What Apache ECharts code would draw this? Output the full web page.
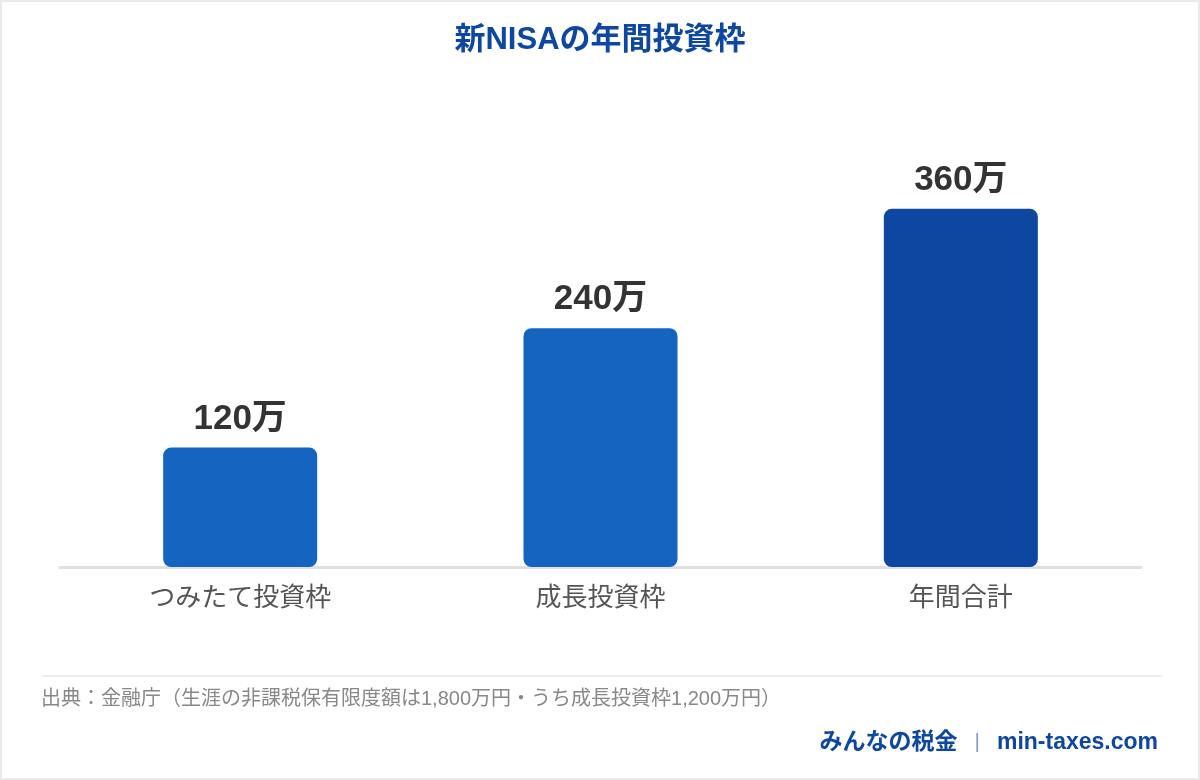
<!DOCTYPE html>
<html>
<head>
    <meta charset="utf-8">
    <title>新NISAの年間投資枠</title>
    <script src="https://cdn.jsdelivr.net/npm/echarts@6/dist/echarts.min.js"></script>
    <style>
        html, body { margin: 0; padding: 0; background: #fff; }
        #main { width: 1200px; height: 780px; box-sizing: border-box; border: 2px solid #ebebeb; }
    </style>
</head>
<body>
<div id="main"></div>
<script type="text/javascript">
    // データ（単位：万円）
    var categories = ['つみたて投資枠', '成長投資枠', '年間合計'];
    var values = [120, 240, 360];
    var barColors = ['#1565c0', '#1565c0', '#0d47a1'];

    var fontJP = "'Liberation Sans', 'Noto Sans CJK JP', sans-serif";

    var myChart = echarts.init(document.getElementById('main'));

    var barData = [];
    for (var i = 0; i < values.length; i++) {
        barData.push({ value: values[i], itemStyle: { color: barColors[i] } });
    }

    var option = {
        backgroundColor: '#fff',
        animation: false,
        title: {
            text: '新NISAの年間投資枠',
            left: 'center',
            top: 18,
            textStyle: { color: '#0d47a1', fontSize: 31, fontWeight: 'bold', fontFamily: fontJP }
        },
        grid: { left: 58, right: 57, top: 167, bottom: 211 },
        xAxis: {
            type: 'category',
            data: categories,
            axisLine: { lineStyle: { color: '#e0e0e0', width: 3 } },
            axisTick: { show: false },
            axisLabel: { color: '#555', fontSize: 26, margin: 19, fontFamily: fontJP }
        },
        yAxis: {
            type: 'value',
            min: 0,
            max: 400,
            show: false,
            splitLine: { show: false }
        },
        series: [{
            type: 'bar',
            data: barData,
            barWidth: 154,
            itemStyle: { borderRadius: 8 },
            label: {
                show: true,
                position: 'top',
                distance: 11,
                formatter: '{c}万',
                color: '#333',
                fontSize: 35,
                fontWeight: 'bold',
                fontFamily: fontJP
            }
        }],
        graphic: [
            {
                type: 'line',
                shape: { x1: 40, y1: 674, x2: 1160, y2: 674 },
                style: { stroke: '#eeeeee', lineWidth: 2 }
            },
            {
                type: 'text',
                left: 39,
                top: 687,
                style: {
                    text: '出典：金融庁（生涯の非課税保有限度額は1,800万円・うち成長投資枠1,200万円）',
                    fill: '#888',
                    fontSize: 20,
                    fontFamily: fontJP
                }
            },
            {
                type: 'text',
                right: 40,
                top: 729,
                style: {
                    text: '{a|みんなの税金}{s||}{a|min-taxes.com}',
                    rich: {
                        a: { fill: '#0d47a1', fontSize: 23, fontWeight: 'bold', fontFamily: fontJP },
                        s: { fill: '#7f9fd0', fontSize: 21, padding: [0, 17], fontFamily: fontJP }
                    }
                }
            }
        ]
    };

    myChart.setOption(option);
</script>
</body>
</html>
